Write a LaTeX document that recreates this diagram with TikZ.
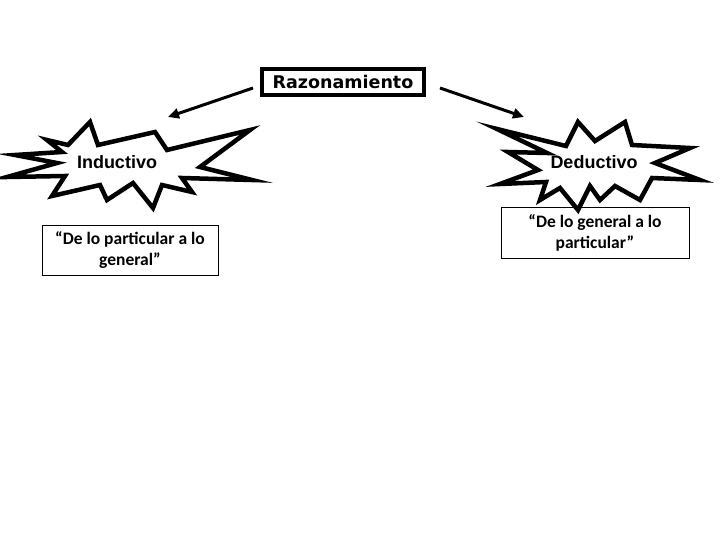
\documentclass[tikz,border=0pt]{standalone}
\usepackage{fontspec}
\setmainfont{Carlito}
\newfontfamily\headfont{DejaVu Sans}
\newfontfamily\starfont{Liberation Sans}
\usetikzlibrary{arrows.meta,positioning}

\tikzset{
  burst/.style={draw=black,line width=4.5pt,line join=miter,fill=white},
  startext/.style={font=\starfont\bfseries\fontsize{18}{20}\selectfont},
  quotebox/.style={draw=black,line width=0.8pt,align=center,inner sep=0pt,
    font=\bfseries\fontsize{17.5}{21}\selectfont},
  arr/.style={line width=3pt,-{Triangle[length=11pt,width=10pt]}}
}

\begin{document}
\begin{tikzpicture}[x=1pt,y=-1pt]
  \useasboundingbox (0,0) rectangle (720,540);

  % Title box
  \node[draw=black,line width=4pt,minimum width=162pt,minimum height=26pt,inner sep=0pt,
        font=\headfont\bfseries\fontsize{17.5}{18}\selectfont] (razon) at (343,82) {Razonamiento};

  % Inductivo burst
  \draw[burst] (90,122) -- (98,145) -- (155,132) -- (167,150) -- (250,130) -- (200,167)
    -- (252,180) -- (182,178) -- (192,192) -- (162,185) -- (153,208) -- (133,183)
    -- (107,200) -- (100,185) -- (52,196) -- (65,176) -- (7,177) -- (57,163)
    -- (15,155) -- (62,152) -- (47,140) -- (68,145) -- cycle;
  \node[startext] (ind) at (117,162) {Inductivo};

  % Deductivo burst
  \draw[burst] (497,129) -- (566,146) -- (578,122) -- (595,141) -- (625,122) -- (632,145)
    -- (690,148) -- (655,163) -- (700,180) -- (652,178) -- (640,200) -- (615,186)
    -- (600,200) -- (590,186) -- (578,210) -- (560,188) -- (540,200) -- (546,182)
    -- (500,184) -- (538,170) -- (508,152) -- (547,153) -- cycle;
  \node[startext] (ded) at (594,162) {Deductivo};

  % Quote boxes
  \node[quotebox,minimum width=176pt,minimum height=50pt] (indq) at (130,250)
    {“De lo particular a lo\\general”};
  \node[quotebox,minimum width=188pt,minimum height=51pt] (dedq) at (595,232.5)
    {“De lo general a lo\\particular”};

  % Arrows
  \coordinate (indtip) at (168,117);
  \coordinate (dedtip) at (524,117);
  \draw[arr] ([xshift=-7pt,yshift=-6pt]razon.west) -- (indtip);
  \draw[arr] ([xshift=14pt,yshift=-6pt]razon.east) -- (dedtip);
\end{tikzpicture}
\end{document}
